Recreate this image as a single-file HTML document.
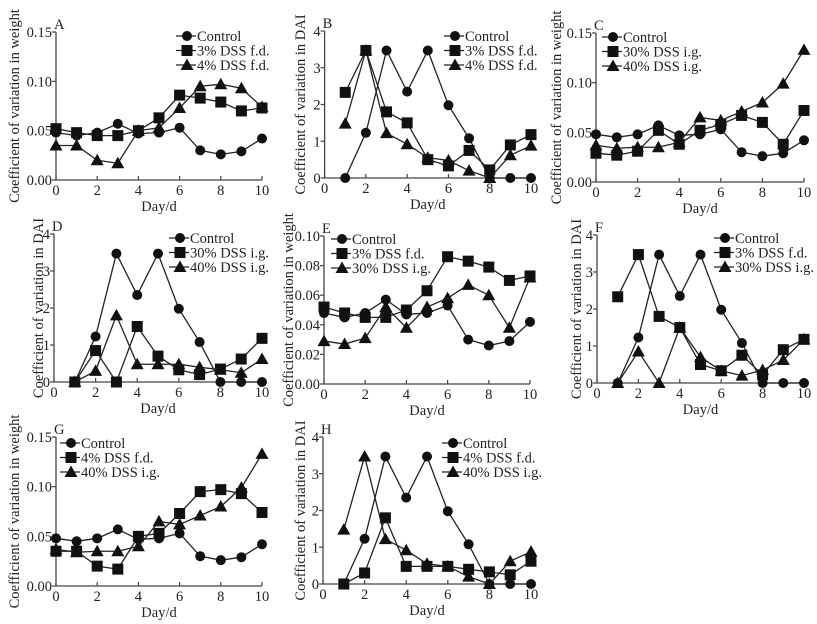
<!DOCTYPE html>
<html><head><meta charset="utf-8"><style>
html,body{margin:0;padding:0;background:#fff;}
svg{display:block;font-family:"Liberation Serif",serif;}
</style></head><body>
<svg id="fig" width="817" height="624" viewBox="0 0 817 624" xmlns="http://www.w3.org/2000/svg"></svg>
<script>
const days = [0,1,2,3,4,5,6,7,8,9,10];
const daiDays = [1,2,3,4,5,6,7,8,9,10];
const ctrlW = [0.048,0.045,0.048,0.057,0.047,0.048,0.053,0.030,0.026,0.029,0.042];
const fd3W  = [0.052,0.048,0.045,0.045,0.050,0.063,0.086,0.083,0.079,0.070,0.073];
const fd4W  = [0.035,0.035,0.020,0.017,0.050,0.053,0.073,0.095,0.097,0.093,0.074];
const ig30W = [0.029,0.027,0.031,0.052,0.038,0.052,0.058,0.067,0.060,0.038,0.072];
const ig40W = [0.037,0.034,0.035,0.035,0.040,0.065,0.062,0.071,0.080,0.099,0.133];
const ctrlD = [0,1.23,3.47,2.35,3.47,1.98,1.08,0,0,0];
const fd3D  = [2.33,3.47,1.8,1.5,0.5,0.33,0.75,0.22,0.9,1.18];
const daiA  = [1.48,3.47,1.22,0.92,0.55,0.48,0.2,0,0.62,0.88];
const daiB  = [0,0.3,1.8,0.48,0.48,0.48,0.4,0.33,0.25,0.62];
const ig30D = [0,0.85,0,1.5,0.7,0.33,0.2,0.35,0.62,1.18];
const wTicks3 = ["0.00","0.05","0.10","0.15"];
const wTicksE = ["0.00","0.02","0.04","0.06","0.08","0.10"];
const dTicks = ["0","1","2","3","4"];
const xTicks = ["0","2","4","6","8","10"];

const panels = [
 {id:"A",x0:56,x1:262,yb:180,yt:32,max:0.15,ticks:wTicks3,title:"Coefficient of variation in weight",tx:14,lx:187,ly:36,
  s:[["Control",ctrlW,"c",days],["3% DSS f.d.",fd3W,"s",days],["4% DSS f.d.",fd4W,"t",days]]},
 {id:"B",x0:324.6,x1:531,yb:178,yt:31,max:4,ticks:dTicks,title:"Coefficient of variation in DAI",tx:300,lx:455,ly:36,
  s:[["Control",ctrlD,"c",daiDays],["3% DSS f.d.",fd3D,"s",daiDays],["4% DSS f.d.",daiA,"t",daiDays]]},
 {id:"C",x0:596,x1:804,yb:182,yt:33,max:0.15,ticks:wTicks3,title:"Coefficient of variation in weight",tx:556,lx:613,ly:37,
  s:[["Control",ctrlW,"c",days],["30% DSS i.g.",ig30W,"s",days],["40% DSS i.g.",ig40W,"t",days]]},
 {id:"D",x0:54,x1:262,yb:382,yt:234,max:4,ticks:dTicks,title:"Coefficient of variation in DAI",tx:38,lx:180,ly:238,
  s:[["Control",ctrlD,"c",daiDays],["30% DSS i.g.",ig30D,"s",daiDays],["40% DSS i.g.",daiB,"t",daiDays]]},
 {id:"E",x0:324,x1:530,yb:384,yt:236,max:0.10,ticks:wTicksE,title:"Coefficient of variation in weight",tx:288,lx:342,ly:239,
  s:[["Control",ctrlW,"c",days],["3% DSS f.d.",fd3W,"s",days],["30% DSS i.g.",ig30W,"t",days]]},
 {id:"F",x0:597,x1:804,yb:383,yt:235,max:4,ticks:dTicks,title:"Coefficient of variation in DAI",tx:576,lx:725,ly:238,
  s:[["Control",ctrlD,"c",daiDays],["3% DSS f.d.",fd3D,"s",daiDays],["30% DSS i.g.",ig30D,"t",daiDays]]},
 {id:"G",x0:56,x1:262,yb:586,yt:437,max:0.15,ticks:wTicks3,title:"Coefficient of variation in weight",tx:14,lx:71,ly:443,
  s:[["Control",ctrlW,"c",days],["4% DSS f.d.",fd4W,"s",days],["40% DSS i.g.",ig40W,"t",days]]},
 {id:"H",x0:323,x1:531,yb:584,yt:437,max:4,ticks:dTicks,title:"Coefficient of variation in DAI",tx:300,lx:453,ly:443,
  s:[["Control",ctrlD,"c",daiDays],["4% DSS f.d.",daiB,"s",daiDays],["40% DSS i.g.",daiA,"t",daiDays]]}
];
const NS="http://www.w3.org/2000/svg";
const svg=document.getElementById("fig");
function mk(tag,attrs,parent,text){const e=document.createElementNS(NS,tag);for(const k in attrs)e.setAttribute(k,attrs[k]);if(text!==undefined)e.textContent=text;(parent||svg).appendChild(e);return e;}
function marker(g,type,x,y){
  let m;
  if(type==="c") m=mk("circle",{cx:x,cy:y,r:5,fill:"#111"},g);
  else if(type==="s") m=mk("rect",{x:x-5.5,y:y-5.5,width:11,height:11,fill:"#111"},g);
  else m=mk("polygon",{points:`${x},${y-6.5} ${x+6.5},${y+5} ${x-6.5},${y+5}`,fill:"#111"},g);
  return m;
}
panels.forEach(p=>{
  const g=mk("g",{});
  
  
  const xs=d=>p.x0+(p.x1-p.x0)*d/10;
  const ys=v=>p.yb-(p.yb-p.yt)*v/p.max;
  const ax=mk("path",{d:`M${p.x0},${p.yt} L${p.x0},${p.yb} L${p.x1},${p.yb}`,stroke:"#444",fill:"none","stroke-width":1.3},g);
  
  
  const n=p.ticks.length-1;
  p.ticks.forEach((t,i)=>{
    const y=p.yb-(p.yb-p.yt)*i/n;
    mk("line",{x1:p.x0-4,x2:p.x0,y1:y,y2:y,stroke:"#444","stroke-width":1.2},g);
    const tl=mk("text",{x:p.x0-4,y:y+5,"text-anchor":"end","font-size":14.5,fill:"#222"},g,t);
    
    
  });
  xTicks.forEach(t=>{
    const x=xs(+t);
    mk("line",{x1:x,x2:x,y1:p.yb,y2:p.yb-4,stroke:"#444","stroke-width":1.2},g);
    const tl=mk("text",{x:x,y:p.yb+15,"text-anchor":"middle","font-size":14.5,fill:"#222"},g,t);
    
    
  });
  const xt=mk("text",{x:(p.x0+p.x1)/2,y:p.yb+31,"text-anchor":"middle","font-size":14.5,fill:"#222"},g,"Day/d");
  
  
  const cy=(p.yb+p.yt)/2;
  const yt=mk("text",{x:p.tx,y:cy,"text-anchor":"middle","font-size":14.5,fill:"#222",transform:`rotate(-90 ${p.tx} ${cy})`,dy:5},g,p.title);
  
  
  const pl=mk("text",{x:p.x0-2,y:p.yt-3,"font-size":14.5,fill:"#222"},g,p.id);
  
  
  p.s.forEach((s,si)=>{
    const [name,vals,type,xd]=s;
    const pts=vals.map((v,i)=>`${xs(xd[i])},${ys(v)}`).join(" ");
    const line=mk("polyline",{points:pts,fill:"none",stroke:"#222","stroke-width":1.3},g);
    
    
    vals.forEach((v,i)=>{
      const m=marker(g,type,xs(xd[i]),ys(v));
      
      
    });
    const ly=p.ly+si*14.5;
    const lg=mk("g",{},g);
    
    
    mk("line",{x1:p.lx-11,x2:p.lx+9,y1:ly,y2:ly,stroke:"#222","stroke-width":1.3},lg);
    marker(lg,type,p.lx,ly);
    mk("text",{x:p.lx+10,y:ly+5,"font-size":14.5,fill:"#222"},lg,name);
  });
});
</script>
</body></html>
